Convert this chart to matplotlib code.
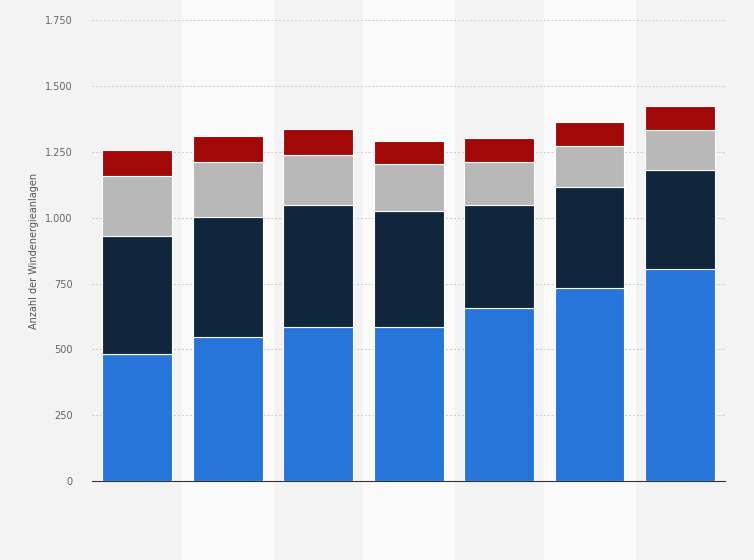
import matplotlib.pyplot as plt
import numpy as np

years = ["1", "2", "3", "4", "5", "6", "7"]
blue = [482, 547, 585, 585, 657, 733, 805]
navy = [448, 456, 463, 440, 391, 384, 376]
gray = [228, 209, 190, 179, 164, 155, 152]
red = [99, 98, 99, 87, 91, 91, 91]

fig = plt.figure(figsize=(7.54, 5.6), dpi=100)
fig.patch.set_facecolor("#f3f3f3")
ax = fig.add_axes([0.122, 0.141, 0.84, 0.823])
ax.set_facecolor("none")

x = np.arange(len(years))
for i in x:
    if i % 2 == 1:
        ax.axvspan(i - 0.5, i + 0.5, ymin=-0.2, ymax=1.2, color="#fafafa", zorder=0, clip_on=False)

bottom = np.zeros(len(years))
for vals, col in [(blue, "#2775db"), (navy, "#0f263d"), (gray, "#b8b8b8"), (red, "#a30808")]:
    ax.bar(x, vals, bottom=bottom, width=0.77, color=col, edgecolor="white", linewidth=0.8, zorder=3)
    bottom += np.array(vals)

ax.set_xlim(-0.5, len(years) - 0.5)
ax.set_ylim(0, 1750)
ticks = np.arange(0, 1751, 250)
ax.set_yticks(ticks)
ax.set_yticklabels([f"{t:,}".replace(",", ".") for t in ticks], fontsize=7, color="#666666")
ax.set_xticks([])
ax.yaxis.grid(True, linestyle=(0, (2, 2)), color="#cccccc", linewidth=0.7, zorder=1)
for s in ["top", "right", "left"]:
    ax.spines[s].set_visible(False)
ax.spines["bottom"].set_color("#333333")
ax.tick_params(axis="y", length=0, pad=14)
ax.set_ylabel("Anzahl der Windenergieanlagen", fontsize=7, color="#555555")

fig.savefig("out.png", dpi=100, facecolor=fig.get_facecolor())
